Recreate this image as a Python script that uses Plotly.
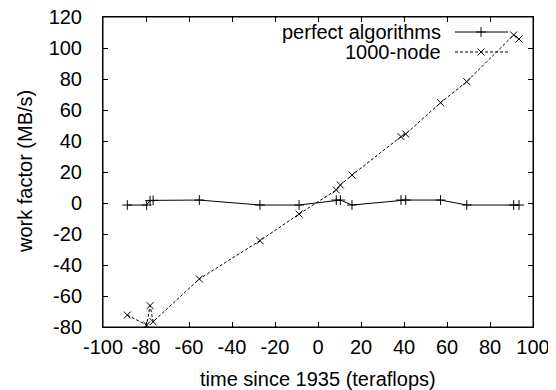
import plotly.graph_objects as go

# data
x_vals = [-88.7, -79.7, -78.1, -76.7, -55.2, -27.0, -8.8, 8.5, 10.4, 15.8,
          38.6, 40.8, 57.0, 69.2, 91.0, 93.5]
perfect = [-1.3, -1.3, 1.5, 1.7, 1.9, -1.3, -1.3, 1.9, 1.9, -1.3,
           1.9, 1.9, 1.9, -1.3, -1.3, -1.3]
node1000 = [-72.3, -78.7, -66.2, -76.6, -49.0, -24.3, -7.1, 8.4, 11.6, 18.0,
            42.8, 44.5, 64.7, 78.3, 108.4, 105.8]
series_names = ["perfect algorithms", "1000-node"]
x_ticks = list(range(-100, 101, 20))
y_ticks = list(range(-80, 121, 20))
x_ticktext = [str(v) for v in x_ticks]
y_ticktext = [str(v) for v in y_ticks]

FONT = "Liberation Sans, Arial, Helvetica, sans-serif"
FS = 20

# the page body has an 8px margin; size the figure so the plot lands in place
OFF = 8
W, H = 556 - OFF, 390 - OFF
ML, MR, MT, MB = 103 - OFF, 23, 17 - OFF, 63
PW, PH = W - ML - MR, H - MT - MB


def px(xpix):
    return (xpix - OFF - ML) / PW


def py(ypix):
    return (MT + PH - (ypix - OFF)) / PH


fig = go.Figure()
fig.add_trace(go.Scatter(
    x=x_vals, y=perfect, mode="lines+markers", name=series_names[0],
    line=dict(color="black", width=1),
    marker=dict(symbol="cross-thin", size=7, line=dict(color="black", width=1)),
    showlegend=False))
fig.add_trace(go.Scatter(
    x=x_vals, y=node1000, mode="lines+markers", name=series_names[1],
    line=dict(color="black", width=1, dash="3px,2px"),
    marker=dict(symbol="x-thin", size=7, line=dict(color="black", width=1)),
    showlegend=False))

# gnuplot-style key (text right aligned, sample to the right)
key_y = [py(32), py(52)]
key_syms = ["cross-thin", "x-thin"]
key_dash = ["solid", "3px,2px"]
for i, name in enumerate(series_names):
    fig.add_annotation(x=px(443), y=key_y[i], xref="paper", yref="paper",
                       text=name, showarrow=False, xanchor="right", yanchor="middle",
                       font=dict(family=FONT, size=FS, color="black"))
    fig.add_shape(type="line", xref="paper", yref="paper",
                  x0=px(455), x1=px(508), y0=key_y[i], y1=key_y[i],
                  line=dict(color="black", width=1, dash=key_dash[i]))
    fig.add_trace(go.Scatter(
        x=[px(481)], y=[key_y[i]], xaxis="x2", yaxis="y2", mode="markers",
        marker=dict(symbol=key_syms[i], size=7,
                    line=dict(color="black", width=1)),
        showlegend=False, hoverinfo="skip"))

# plot frame
fig.add_shape(type="rect", xref="paper", yref="paper", x0=0, x1=1, y0=0, y1=1,
              line=dict(color="black", width=1), fillcolor="rgba(0,0,0,0)")

# axis titles
fig.add_annotation(x=px(318), y=py(379), xref="paper", yref="paper",
                   text="time since 1935 (teraflops)", showarrow=False,
                   xanchor="center", yanchor="middle",
                   font=dict(family=FONT, size=FS, color="black"))
fig.add_annotation(x=px(25), y=0.5, xref="paper", yref="paper",
                   text="work factor (MB/s)", showarrow=False, textangle=-90,
                   xanchor="center", yanchor="middle",
                   font=dict(family=FONT, size=FS, color="black"))

axis_common = dict(
    showgrid=False, zeroline=False, showline=True, linecolor="black", linewidth=1,
    mirror="allticks", ticks="inside", ticklen=5, tickcolor="black", tickwidth=1,
    tickfont=dict(family=FONT, size=FS, color="black"), automargin=False,
    ticklabeloverflow="allow",
)
fig.update_layout(
    width=W, height=H,
    margin=dict(l=ML, r=MR, t=MT, b=MB, autoexpand=False),
    paper_bgcolor="white", plot_bgcolor="white",
    font=dict(family=FONT, size=FS, color="black"),
    xaxis=dict(range=[-100, 100], tickvals=x_ticks, ticktext=x_ticktext,
               ticklabelstandoff=2, **axis_common),
    yaxis=dict(range=[-80, 120], tickvals=y_ticks, ticklabelstandoff=16,
               ticktext=y_ticktext, **axis_common),
    xaxis2=dict(range=[0, 1], overlaying="x", visible=False, anchor="y2"),
    yaxis2=dict(range=[0, 1], overlaying="y", visible=False, anchor="x2"),
)

fig.write_html("out.html")
